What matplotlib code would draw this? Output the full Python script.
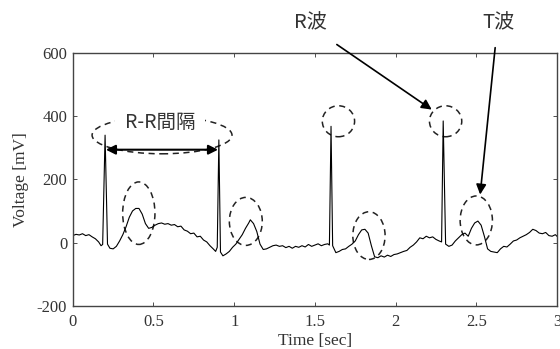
"""
ECG trace (R-R interval, R and T waves marked) recreated from a figure.
"""
import matplotlib.pyplot as plt
from matplotlib.patches import Ellipse

# time [sec] and voltage [mV]
t = [0.00, 0.02, 0.04, 0.06, 0.08, 0.10, 0.12, 0.14, 0.16, 0.175, 0.185, 0.20, 0.215,
     0.23, 0.25, 0.27, 0.29, 0.31, 0.33, 0.35, 0.37, 0.39, 0.41, 0.43, 0.45, 0.47,
     0.49, 0.51, 0.53, 0.55, 0.57, 0.59, 0.61, 0.63, 0.65, 0.67, 0.69, 0.71, 0.73,
     0.75, 0.77, 0.79, 0.81, 0.83, 0.85, 0.87, 0.885, 0.895, 0.905, 0.915, 0.93,
     0.95, 0.97, 0.99, 1.01, 1.03, 1.05, 1.07, 1.09, 1.10, 1.12, 1.14, 1.16, 1.18,
     1.20, 1.22, 1.24, 1.26, 1.28, 1.30, 1.32, 1.34, 1.36, 1.38, 1.40, 1.42, 1.44,
     1.46, 1.48, 1.50, 1.52, 1.54, 1.56, 1.58, 1.59, 1.60, 1.61, 1.63, 1.65, 1.67,
     1.69, 1.71, 1.73, 1.75, 1.77, 1.79, 1.81, 1.83, 1.85, 1.87, 1.89, 1.91, 1.93,
     1.95, 1.97, 1.99, 2.01, 2.03, 2.05, 2.07, 2.09, 2.11, 2.13, 2.15, 2.17, 2.19,
     2.21, 2.23, 2.25, 2.27, 2.285, 2.295, 2.31, 2.33, 2.35, 2.37, 2.39, 2.41, 2.43,
     2.45, 2.47, 2.49, 2.51, 2.53, 2.55, 2.57, 2.59, 2.61, 2.63, 2.65, 2.67, 2.69,
     2.71, 2.73, 2.75, 2.77, 2.79, 2.81, 2.83, 2.85, 2.87, 2.89, 2.91, 2.93, 2.95,
     2.97, 2.99, 3.00]
v = [22, 26, 24, 28, 22, 25, 18, 12, 2, -10, -6, 340, -5,
     -18, -20, -12, 5, 25, 50, 80, 100, 108, 108, 90, 60, 45,
     48, 55, 60, 62, 58, 60, 55, 57, 50, 52, 40, 36, 28,
     30, 18, 20, 8, 2, -10, -20, -28, -15, 325, -30, -42,
     -36, -28, -15, -5, 10, 25, 45, 62, 72, 60, 35, -5, -22,
     -20, -15, -10, -8, -12, -10, -16, -12, -18, -12, -15, -10, -14,
     -6, -12, -8, -4, -10, -6, -4, -8, 368, -10, -32, -28, -22,
     -20, -12, -5, 5, 25, 40, 42, 30, -10, -45, -48, -42, -46,
     -40, -44, -38, -36, -32, -28, -25, -15, -8, 2, 15, 12, 20,
     15, 18, 10, 5, 2, 385, -5, -12, -8, 5, 15, 25, 30,
     20, 45, 62, 68, 55, 20, -20, -28, -30, -32, -20, -12, -14,
     -5, 5, 8, 15, 20, 25, 32, 42, 38, 30, 28, 32, 22,
     20, 25, 20]

# dashed ellipses: (center t, center v, width sec, height mV)
rr_ellipse = (0.553, 340, 0.867, 118)
r_ellipses = [(1.646, 384, 0.20, 98), (2.31, 384, 0.20, 98)]
t_ellipses = [(0.409, 93, 0.20, 198), (1.072, 67, 0.204, 152),
              (1.835, 22, 0.20, 151), (2.50, 70, 0.20, 155)]

plt.rcParams['font.family'] = ['Liberation Serif', 'DejaVu Serif']
plt.rcParams['axes.unicode_minus'] = False
jp = ['Noto Sans CJK JP', 'DejaVu Sans']

fig = plt.figure(figsize=(5.6, 3.49), dpi=100)
ax = fig.add_axes([0.13, 0.124, 0.8646, 0.724])

ax.plot(t, v, color='black', lw=0.8)

for (cx, cy, w, h) in [rr_ellipse] + r_ellipses + t_ellipses:
    ax.add_patch(Ellipse((cx, cy), w, h, fill=False, ls=(0, (4, 3)),
                         lw=1.1, color='#222222', clip_on=False))

ax.annotate('', xy=(0.205, 294), xytext=(0.90, 294),
            arrowprops=dict(arrowstyle='<|-|>', color='black', lw=1.5,
                            mutation_scale=14, shrinkA=0, shrinkB=0))
ax.text(0.541, 380, 'R-R間隔', family=jp, fontsize=14, color='#333333',
        ha='center', va='center',
        bbox=dict(boxstyle='square,pad=0.5', facecolor='white', edgecolor='none'))

ax.text(1.47, 696, 'R波', family=jp, fontsize=14.5, color='#333333',
        ha='center', va='center', clip_on=False)
ax.annotate('', xy=(2.224, 421), xytext=(1.636, 627), annotation_clip=False,
            arrowprops=dict(arrowstyle='-|>', color='black', lw=1.2,
                            mutation_scale=15, shrinkA=0, shrinkB=0))
ax.text(2.635, 696, 'T波', family=jp, fontsize=14.5, color='#333333',
        ha='center', va='center', clip_on=False)
ax.annotate('', xy=(2.524, 152), xytext=(2.617, 617), annotation_clip=False,
            arrowprops=dict(arrowstyle='-|>', color='black', lw=1.2,
                            mutation_scale=15, shrinkA=0, shrinkB=0))

ax.set_xlim(0, 3)
ax.set_ylim(-200, 600)
ax.set_xticks([0, 0.5, 1, 1.5, 2, 2.5, 3])
ax.set_xticklabels(['0', '0.5', '1', '1.5', '2', '2.5', '3'])
ax.set_yticks([-200, 0, 200, 400, 600])
ax.tick_params(direction='in', length=3, width=0.6, top=True, right=True,
               labelsize=12, colors='#333333')
ax.tick_params(axis='x', pad=6)
ax.tick_params(axis='y', pad=4)
for s in ax.spines.values():
    s.set_linewidth(1.0)
    s.set_color('#444444')

ax.set_xlabel('Time [sec]', fontsize=12.5, color='#333333', labelpad=2)
ax.set_ylabel('Voltage [mV]', fontsize=12.5, color='#333333', labelpad=6)

fig.savefig('out.png', dpi=100)
